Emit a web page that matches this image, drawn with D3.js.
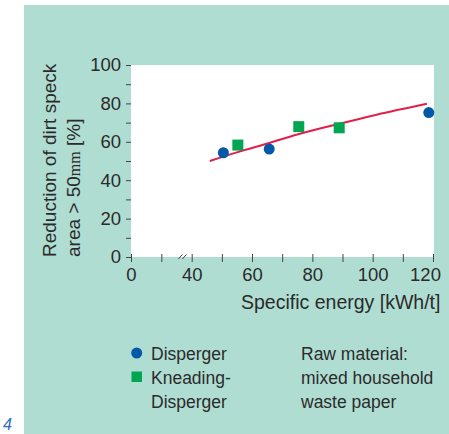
<!DOCTYPE html>
<html><head><meta charset="utf-8">
<script src="https://cdn.jsdelivr.net/npm/d3@7/dist/d3.min.js"></script>
<style>body{margin:0;background:#fff}svg{display:block}text{font-family:"Liberation Sans",Arial,sans-serif;fill:#2b2b2b}</style>
</head><body><svg id="c" width="449" height="434"></svg>
<script>
// Data
const dispergerX = [50.5, 65.7, 118.6];
const dispergerY = [54.3, 56.2, 75.2];
const kneadingX = [55.3, 75.5, 88.9];
const kneadingY = [58.3, 67.9, 67.3];
const fitX = [46, 55, 66, 75, 88, 101, 118];
const fitY = [50, 54.5, 59.5, 63.8, 69, 74, 79.8];
const xTickValues = [0, 20, 40, 50, 60, 70, 80, 90, 100, 110, 120];
const xTickLabels = [0, 40, 60, 80, 100, 120];
const yTickValues = [0, 10, 20, 30, 40, 50, 60, 70, 80, 90, 100];
const yTickLabels = [0, 20, 40, 60, 80, 100];

const svg = d3.select("#c");
svg.append("rect").attr("x",24).attr("y",5).attr("width",425).attr("height",429).attr("fill","#b0ddd2");

const x = d3.scaleLinear().domain([0,40,120]).range([131,191.7,433]);
const y = d3.scaleLinear().domain([0,100]).range([257,65]);

svg.append("rect").attr("x",131).attr("y",65).attr("width",303).attr("height",192).attr("fill","#fff");

// X axis
const xa = svg.append("g").attr("transform","translate(0,257)")
  .call(d3.axisBottom(x).tickValues(xTickValues).tickSize(5).tickPadding(6)
    .tickFormat(d => xTickLabels.includes(d) ? d : ""));
xa.select(".domain").remove();
xa.selectAll(".tick line").attr("stroke","#444").attr("y1",-3);
xa.selectAll(".tick text").attr("font-size","18.5px").attr("fill","#2b2b2b")
  .attr("font-family","'Liberation Sans',Arial,sans-serif")
  .attr("dx", d => d===120 ? -8 : 0);
// break marks
const bx = x(20) + 19;
[0,4].forEach(o => svg.append("line").attr("x1",bx+o-2).attr("y1",259).attr("x2",bx+o+2).attr("y2",254.5)
  .attr("stroke","#444").attr("stroke-width",1));

// Y axis
const ya = svg.append("g").attr("transform","translate(131,0)")
  .call(d3.axisLeft(y).tickValues(yTickValues).tickSize(5).tickPadding(5)
    .tickFormat(d => yTickLabels.includes(d) ? d : ""));
ya.select(".domain").remove();
ya.selectAll(".tick line").attr("stroke","#444");
ya.selectAll(".tick text").attr("font-size","18.5px").attr("fill","#2b2b2b")
  .attr("font-family","'Liberation Sans',Arial,sans-serif");

// Fit line
svg.append("path").datum(fitX.map((d,i)=>[d,fitY[i]]))
  .attr("d", d3.line().x(d=>x(d[0])).y(d=>y(d[1])).curve(d3.curveMonotoneX))
  .attr("fill","none").attr("stroke","#e0204b").attr("stroke-width",2);

// Points
svg.selectAll(".sq").data(kneadingX).enter().append("rect")
  .attr("x",(d,i)=>x(d)-5.5).attr("y",(d,i)=>y(kneadingY[i])-5.5)
  .attr("width",11).attr("height",11).attr("fill","#00a651");
svg.selectAll(".ci").data(dispergerX).enter().append("circle")
  .attr("cx",d=>x(d)).attr("cy",(d,i)=>y(dispergerY[i])).attr("r",5.5).attr("fill","#0558a8");

// Axis titles
svg.append("text").attr("x",241).attr("y",309).attr("font-size","19.5px").text("Specific energy [kWh/t]");
const yt = svg.append("text").attr("transform","translate(55.5,257) rotate(-90)").attr("font-size","19px");
yt.append("tspan").attr("x",0).attr("y",0).text("Reduction of dirt speck");
const t2 = yt.append("tspan").attr("x",0).attr("y",24.5).text("area > 50");
t2.append("tspan").attr("font-family","'Liberation Serif','DejaVu Serif',serif").attr("font-size","16px").text("mm");
t2.append("tspan").text(" [%]");

// Legend
svg.append("circle").attr("cx",136.7).attr("cy",353).attr("r",5.5).attr("fill","#0558a8");
svg.append("rect").attr("x",131.5).attr("y",371.5).attr("width",10.5).attr("height",10.5).attr("fill","#00a651");
const lg = [["Disperger",360],["Kneading-",384],["Disperger",408]];
lg.forEach(l => svg.append("text").attr("x",151).attr("y",l[1]).attr("font-size","17.5px").text(l[0]));
const rm = [["Raw material:",360],["mixed household",384],["waste paper",408]];
rm.forEach(l => svg.append("text").attr("x",301).attr("y",l[1]).attr("font-size","17.5px").text(l[0]));

svg.append("text").attr("x",3).attr("y",430).attr("font-size","16px").attr("font-style","italic")
  .style("fill","#2a6fc0").text("4");
</script></body></html>
